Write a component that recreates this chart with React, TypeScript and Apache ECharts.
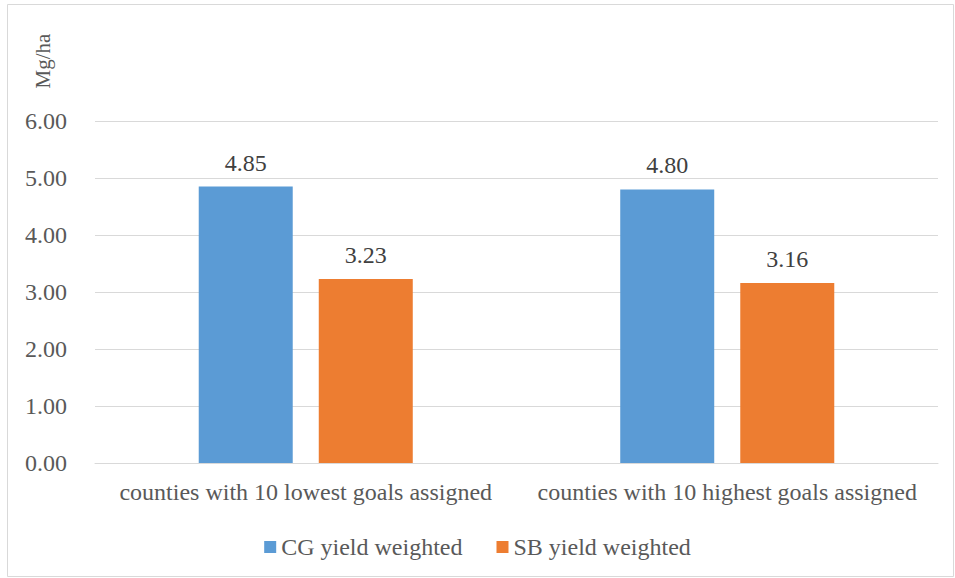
import React, { useEffect, useRef } from "react";
import * as echarts from "echarts";

const categories = [
  "counties with 10 lowest goals assigned",
  "counties with 10 highest goals assigned",
];
const cgYield = [4.85, 4.8];
const sbYield = [3.23, 3.16];
const seriesNames = ["CG yield weighted", "SB yield weighted"];
const yTicks = { min: 0, max: 6, interval: 1 };

const FONT = "Liberation Serif";
const FONT_LIST = "'Liberation Serif', 'Times New Roman', serif";
const TEXT = "#595959";

export default function App() {
  const ref = useRef<HTMLDivElement>(null);

  useEffect(() => {
    if (!ref.current) return;
    const chart = echarts.init(ref.current, undefined, { renderer: "svg" });
    const barLabel = {
      show: true,
      position: "top" as const,
      distance: 12,
      fontFamily: FONT,
      fontSize: 24,
      color: "#404040",
      formatter: (p: any) => Number(p.value).toFixed(2),
    };
    chart.setOption({
      animation: false,
      backgroundColor: "#ffffff",
      textStyle: { fontFamily: FONT },
      graphic: [
        {
          type: "rect",
          shape: { x: 7.5, y: 4.5, width: 946, height: 572 },
          style: { fill: "none", stroke: "#D9D9D9", lineWidth: 1 },
          silent: true,
        },
        {
          type: "text",
          x: 43,
          y: 61,
          rotation: Math.PI / 2,
          style: {
            text: "Mg/ha",
            fontFamily: FONT,
            fontSize: 21,
            fill: TEXT,
            align: "center",
            verticalAlign: "middle",
          },
        },
      ],
      grid: { left: 95, right: 17, top: 121, bottom: 115, containLabel: false },
      legend: {
        data: seriesNames,
        top: 530,
        left: "center",
        icon: "rect",
        itemWidth: 12,
        itemHeight: 12,
        itemGap: 34,
        textStyle: { fontFamily: FONT, fontSize: 24, color: TEXT },
      },
      xAxis: {
        type: "category",
        data: categories,
        axisLine: { show: true, lineStyle: { color: "#D9D9D9", width: 1 } },
        axisTick: { show: false },
        axisLabel: {
          interval: 0,
          fontFamily: FONT_LIST,
          fontSize: 24,
          color: TEXT,
          margin: 17,
        },
      },
      yAxis: {
        type: "value",
        min: yTicks.min,
        max: yTicks.max,
        interval: yTicks.interval,
        axisLine: { show: false },
        axisTick: { show: false },
        splitLine: { lineStyle: { color: "#D9D9D9", width: 1 } },
        axisLabel: {
          fontFamily: FONT,
          fontSize: 24,
          color: TEXT,
          margin: 28,
          formatter: (v: number) => v.toFixed(2),
        },
      },
      series: [
        {
          name: seriesNames[0],
          type: "bar",
          data: cgYield,
          barWidth: 94,
          barGap: "27.7%",
          itemStyle: { color: "#5B9BD5" },
          label: barLabel,
        },
        {
          name: seriesNames[1],
          type: "bar",
          data: sbYield,
          barWidth: 94,
          barGap: "27.7%",
          itemStyle: { color: "#ED7D31" },
          label: barLabel,
        },
      ],
    });
    return () => chart.dispose();
  }, []);

  return (
    <div
      ref={ref}
      style={{ position: "fixed", left: 0, top: 0, width: 955, height: 578 }}
    />
  );
}
